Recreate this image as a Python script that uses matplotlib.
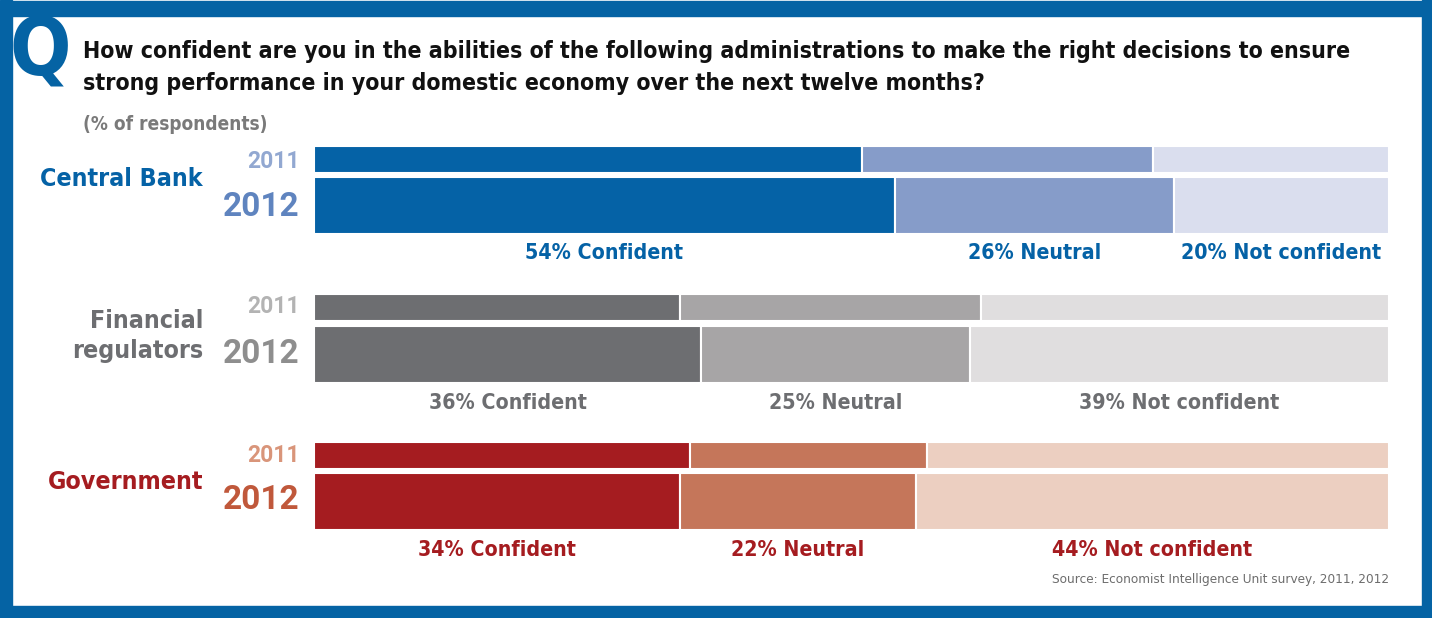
import matplotlib
matplotlib.use("Agg")
import matplotlib.pyplot as plt
from matplotlib.patches import Rectangle

# survey shares (% of respondents): confident, neutral, not confident
groups = ["Central Bank", "Financial\nregulators", "Government"]
years = ["2011", "2012"]
shares_2011 = [[51, 27, 22], [34, 28, 38], [35, 22, 43]]
shares_2012 = [[54, 26, 20], [36, 25, 39], [34, 22, 44]]
answers = ["Confident", "Neutral", "Not confident"]

title = ("How confident are you in the abilities of the following administrations to make the right decisions to ensure\n"
         "strong performance in your domestic economy over the next twelve months?")
subtitle = "(% of respondents)"
source = "Source: Economist Intelligence Unit survey, 2011, 2012"

# palettes per group: segment shades, label colour, year label colours
seg_colors = [["#0562a6", "#869cc9", "#dadeee"],
              ["#6d6e71", "#a7a5a6", "#e0dedf"],
              ["#a51c20", "#c5765a", "#eccfc1"]]
label_colors = ["#0562a6", "#6d6e71", "#a51c20"]
year_colors = [["#92a8d1", "#5f84bf"],
               ["#b3b3b3", "#8e8e8e"],
               ["#d9957a", "#c0583b"]]
frame_blue = "#0563a4"

W, H = 1432, 618
fig = plt.figure(figsize=(W / 100, H / 100), dpi=100)
fig.patch.set_facecolor("white")

FONT = "DejaVu Sans"
cond = dict(family=FONT, fontstretch="condensed", fontweight="bold")


def ptxt(x, y, s, **kw):
    # place text using pixel coordinates measured from the top-left
    return fig.text(x / W, 1 - y / H, s, **kw)


# blue frame
for (x0, y0, w, h) in [(0, 1, W, 15), (0, 0, 12, H), (1422, 0, 10, H), (0, 606, W, 12)]:
    fig.patches.append(Rectangle((x0 / W, 1 - (y0 + h) / H), w / W, h / H,
                                 transform=fig.transFigure, color=frame_blue, zorder=0))

ptxt(9, 75, "Q", fontsize=58, color=frame_blue, ha="left", va="baseline", **cond)
ptxt(83, 67.5, title, fontsize=16.6, color="#111111", ha="left", va="center",
     linespacing=1.55, **cond)
ptxt(83, 124, subtitle, fontsize=13.7, color="#7a7a7a", ha="left", va="center", **cond)

# bar area spans x 314..1389 px, y 146..531 px
ax = fig.add_axes([314 / W, 1 - 531 / H, (1389 - 314) / W, (531 - 146) / H])
ax.set_xlim(0, 100)
ax.set_ylim(531, 146)
ax.axis("off")

row_top = [[146, 177], [294, 326], [442, 473]]
row_h = [27, 57]
label_y = [253, 403, 550]
group_y = [179, 336, 482]
year_y = [[161, 207], [307, 354], [455, 500]]

for g, name in enumerate(groups):
    for r, vals in enumerate([shares_2011[g], shares_2012[g]]):
        left = 0
        for k, v in enumerate(vals):
            ax.barh(row_top[g][r], v, left=left, height=row_h[r], align="edge",
                    color=seg_colors[g][k], edgecolor="white", linewidth=1.5)
            left += v
    # value labels under the 2012 bar
    left = 0
    for k, v in enumerate(shares_2012[g]):
        ax.text(left + v / 2, label_y[g], f"{v}% {answers[k]}", ha="center", va="center",
                fontsize=15.3, color=label_colors[g], **cond)
        left += v
    ptxt(203, group_y[g], name, ha="right", va="center", fontsize=17.9,
         color=label_colors[g], linespacing=1.3, **cond)
    ptxt(300, year_y[g][0], years[0], ha="right", va="center", fontsize=16.5, fontweight="bold",
         color=year_colors[g][0], family="Roboto")
    ptxt(300, year_y[g][1], years[1], ha="right", va="center", fontsize=24, fontweight="bold",
         color=year_colors[g][1], family="Roboto")

ptxt(1389, 579, source, ha="right", va="center", fontsize=9.7, color="#6d6d6d", family=FONT,
     fontstretch="condensed")

fig.savefig("out.png", dpi=100)
